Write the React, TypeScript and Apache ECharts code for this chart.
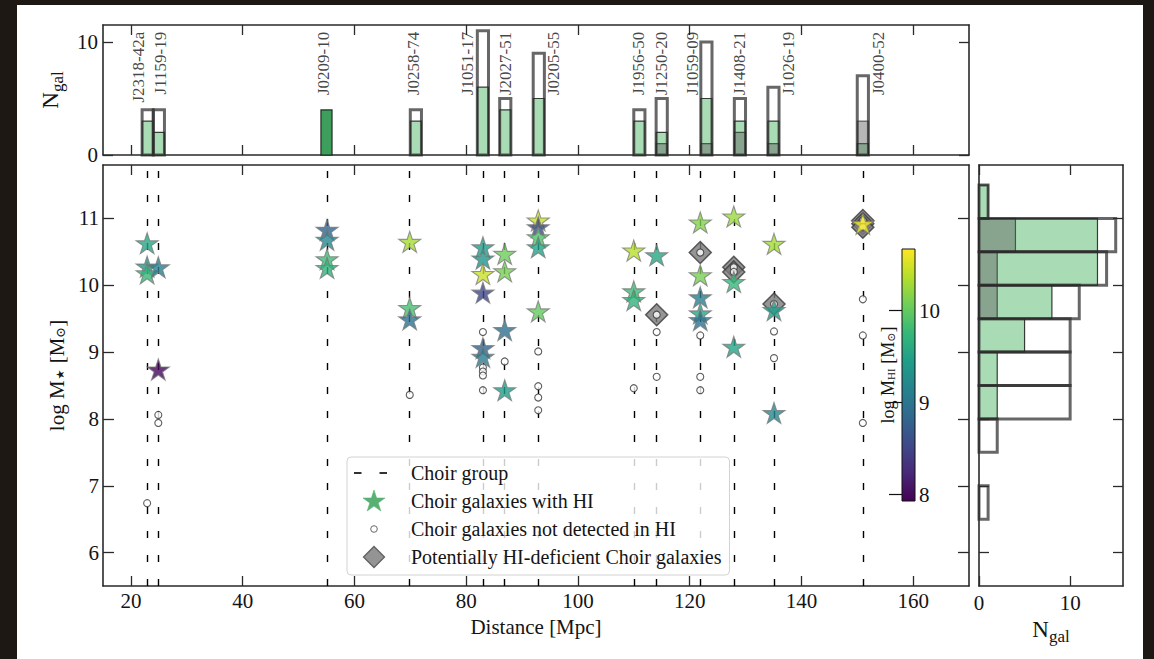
import React, { useEffect, useRef } from 'react';
import * as echarts from 'echarts';

// ---- Choir groups ----
const groupNames = [
  'J2318-42a', 'J1159-19', 'J0209-10', 'J0258-74', 'J1051-17', 'J2027-51', 'J0205-55',
  'J1956-50', 'J1250-20', 'J1059-09', 'J1408-21', 'J1026-19', 'J0400-52',
];
const groupDistance = [22.9, 24.9, 55.1, 69.9, 83.0, 86.9, 92.9, 110.0, 114.1, 121.9, 127.9, 135.1, 151.0];

// HI-detected members: log stellar mass and log HI mass, per group
const hiStellarMass = [
  [10.63, 10.28, 10.18],
  [10.27, 8.74],
  [10.83, 10.68, 10.39, 10.26],
  [10.65, 9.66, 9.49],
  [10.57, 10.40, 10.17, 9.89, 9.06, 8.93],
  [10.47, 10.21, 9.33, 8.43],
  [10.97, 10.87, 10.72, 10.57, 9.61],
  [10.52, 9.91, 9.78],
  [10.45],
  [10.94, 10.15, 9.82, 9.58, 9.48],
  [11.03, 10.05, 9.08],
  [10.62, 9.63, 8.09],
  [10.92],
];
const hiGasMass = [
  [9.55, 9.4, 9.75],
  [9.1, 7.98],
  [8.8, 9.2, 9.8, 9.7],
  [10.3, 9.85, 8.95],
  [9.45, 9.35, 10.45, 8.5, 8.8, 9.05],
  [10.05, 10.1, 8.95, 9.45],
  [10.45, 8.55, 9.9, 9.5, 10.0],
  [10.38, 9.8, 9.7],
  [9.55],
  [10.15, 10.1, 9.1, 9.55, 8.95],
  [10.25, 9.75, 9.5],
  [10.28, 9.45, 9.2],
  [10.62],
];
// Members not detected in HI: log stellar mass, per group
const undetectedStellarMass = [
  [6.74],
  [8.06, 7.94],
  [],
  [8.36],
  [9.30, 8.77, 8.71, 8.65, 8.43],
  [8.86],
  [9.01, 8.49, 8.32, 8.13],
  [8.46],
  [9.56, 9.30, 8.63],
  [10.49, 9.25, 8.63, 8.43],
  [10.27, 10.20],
  [9.72, 9.31, 8.91],
  [10.97, 10.87, 9.79, 9.25, 7.94],
];
// Potentially HI-deficient members: log stellar mass, per group
const deficientStellarMass = [
  [], [], [], [], [], [], [], [],
  [9.56],
  [10.49],
  [10.27, 10.20],
  [9.72],
  [10.97, 10.92, 10.87],
];

// ---- Distance histogram (2 Mpc bins) ----
const distBinStart = [22, 24, 54, 70, 82, 86, 92, 110, 114, 122, 128, 134, 150];
const distBinWidth = 2;
const distTotal = [4, 4, 4, 4, 11, 5, 9, 4, 5, 10, 5, 6, 7];
const distHI = [3, 2, 4, 3, 6, 4, 5, 3, 2, 5, 3, 3, 1];
const distDeficient = [0, 0, 0, 0, 0, 0, 0, 0, 1, 1, 2, 1, 3];

// ---- Stellar-mass histogram (0.5 dex bins) ----
const massBinStart = [6.5, 7.0, 7.5, 8.0, 8.5, 9.0, 9.5, 10.0, 10.5, 11.0];
const massBinWidth = 0.5;
const massTotal = [1, 0, 2, 10, 10, 10, 11, 14, 15, 1];
const massHI = [0, 0, 0, 2, 2, 5, 8, 13, 13, 1];
const massDeficient = [0, 0, 0, 0, 0, 0, 2, 2, 4, 0];

// ---- Ticks and ranges ----
const distanceTicks = [20, 40, 60, 80, 100, 120, 140, 160];
const stellarMassTicks = [6, 7, 8, 9, 10, 11];
const countTicks = [0, 10];
const gasTicks = [8, 9, 10];
const distanceRange = [15, 170];
const stellarMassRange = [5.5, 11.8];
const topCountRange = [0, 11.5];
const sideCountRange = [0, 15.8];
const gasRange = [7.93, 10.67];

// layout of the rotated group names above the distance histogram
const groupLabelX = [22.8, 26.9, 56.0, 72.1, 81.7, 88.6, 97.2, 112.3, 116.4, 122.1, 130.4, 139.3, 155.3];
const groupLabelTop = 10.9;

const VIRIDIS = ['#440154', '#482878', '#3e4989', '#31688e', '#26828e', '#1f9e89', '#35b779', '#6ece58', '#b5de2b', '#fde725'];
const F = '"Liberation Serif", "DejaVu Serif", serif';
const INK = '#141414';
const SPINE = '#2a2a2a';

function starPath(R: number, r: number) {
  let s = '';
  for (let k = 0; k < 10; k++) {
    const a = (-90 + k * 36) * Math.PI / 180;
    const rad = k % 2 ? r : R;
    s += (k ? 'L' : 'M') + (rad * Math.cos(a)).toFixed(2) + ',' + (rad * Math.sin(a)).toFixed(2);
  }
  return s + 'Z';
}

function svgIcon(body: string) {
  const svg = `<svg xmlns="http://www.w3.org/2000/svg" width="40" height="24" viewBox="0 0 40 24">${body}</svg>`;
  return 'image://data:image/svg+xml;charset=utf-8,' + encodeURIComponent(svg);
}

function starPoints(cx: number, cy: number, R: number, r: number) {
  const pts: string[] = [];
  for (let k = 0; k < 10; k++) {
    const a = (-90 + k * 36) * Math.PI / 180;
    const rad = k % 2 ? r : R;
    pts.push((cx + rad * Math.cos(a)).toFixed(2) + ',' + (cy + rad * Math.sin(a)).toFixed(2));
  }
  return pts.join(' ');
}

const spine = { show: true, onZero: false, lineStyle: { color: SPINE, width: 1.6 } };
const ticks = (values: number[], length = 10) => ({
  show: true, inside: true, length, customValues: values, lineStyle: { color: SPINE, width: 1.3 },
});
const labels = (values: number[], margin: number) => ({
  show: true, customValues: values, margin, fontFamily: F, fontSize: 21, color: INK,
});
const noLabels = { show: false };
const noSplit = { show: false };

// base text {b|..} and a subscript {s|..} lowered by `drop` px
function subRich(size: number, sub: number, drop: number) {
  return {
    b: { fontFamily: F, fontSize: size, color: INK, verticalAlign: 'top' },
    s: {
      fontFamily: F, fontSize: sub, color: INK, verticalAlign: 'top',
      padding: [Math.max(0, drop + (size - sub) / 2), 0, 0, 0],
    },
    k: {
      fontFamily: '"DejaVu Sans", sans-serif', fontSize: sub - 2, color: INK, verticalAlign: 'top',
      padding: [Math.max(0, drop + (size - sub + 2) / 2), 1, 0, 1],
    },
  };
}

function vBar(fill: (api: any) => string, stroke: string, lineWidth: number) {
  return (_p: any, api: any) => {
    const n = api.value(2);
    if (!(n > 0)) return null;
    const a = api.coord([api.value(0), n]);
    const b = api.coord([api.value(1), 0]);
    return {
      type: 'rect',
      shape: { x: a[0], y: a[1], width: b[0] - a[0], height: b[1] - a[1] },
      style: { fill: fill(api), stroke, lineWidth },
    };
  };
}

function hBar(fill: string, stroke: string, lineWidth: number) {
  return (_p: any, api: any) => {
    const n = api.value(2);
    if (!(n > 0)) return null;
    const a = api.coord([0, api.value(1)]);
    const b = api.coord([n, api.value(0)]);
    return {
      type: 'rect',
      shape: { x: a[0], y: a[1], width: b[0] - a[0], height: b[1] - a[1] },
      style: { fill, stroke, lineWidth },
    };
  };
}

const GREEN = '#a9dcb4';
const GREEN_FULL = '#3d9f5b';
const GREEN_EDGE = 'rgba(0,0,0,0.75)';
const DEF_FILL = 'rgba(95,95,95,0.45)';
const DEF_EDGE = 'rgba(0,0,0,0.55)';
const TOTAL_EDGE = 'rgba(45,45,45,0.72)';

export default function App() {
  const ref = useRef<HTMLDivElement>(null);

  useEffect(() => {
    if (!ref.current) return;
    const chart = echarts.init(ref.current, undefined, { renderer: 'svg' });

    const stars: number[][] = [];
    const circles: number[][] = [];
    const diamonds: number[][] = [];
    groupDistance.forEach((d, i) => {
      hiStellarMass[i].forEach((m, j) => stars.push([d, m, hiGasMass[i][j]]));
      undetectedStellarMass[i].forEach((m) => circles.push([d, m]));
      deficientStellarMass[i].forEach((m) => diamonds.push([d, m]));
    });

    const distHIData = distBinStart.map((s, i) => [s, s + distBinWidth, distHI[i], distTotal[i]]);
    const distDefData = distBinStart.map((s, i) => [s, s + distBinWidth, distDeficient[i]]);
    const distTotalData = distBinStart.map((s, i) => [s, s + distBinWidth, distTotal[i], distHI[i]]);
    const massHIData = massBinStart.map((s, i) => [s, s + massBinWidth, massHI[i]]);
    const massDefData = massBinStart.map((s, i) => [s, s + massBinWidth, massDeficient[i]]);
    const massTotalData = massBinStart.map((s, i) => [s, s + massBinWidth, massTotal[i]]);

    const legendIcons = {
      dash: svgIcon('<rect x="0" y="11.2" width="7.5" height="1.6" fill="#000"/><rect x="25.5" y="11.2" width="7.5" height="1.6" fill="#000"/>'),
      star: svgIcon(`<polygon points="${starPoints(20, 12.6, 11.5, 4.4)}" fill="#2f9e4f" stroke="#2f9e4f" stroke-width="0.6"/>`),
      circle: svgIcon('<circle cx="20" cy="12" r="3.3" fill="#fff" stroke="#444" stroke-width="1"/>'),
      diamond: svgIcon('<polygon points="20,1.5 30.5,12 20,22.5 9.5,12" fill="#7a7a7a" stroke="#3a3a3a" stroke-width="1.3"/>'),
    };

    const grid = (left: number, top: number, width: number, height: number) => ({
      left, top, width, height, containLabel: false, outerBoundsMode: 'none',
    });

    chart.setOption({
      animation: false,
      backgroundColor: 'transparent',
      textStyle: { fontFamily: F },
      grid: [
        grid(103, 165, 866, 421),  // main scatter
        grid(103, 25, 866, 130),   // distance histogram
        grid(979, 165, 144, 421),  // stellar-mass histogram
        grid(902, 249, 13, 252),   // colour bar
      ],
      xAxis: [
        {
          type: 'value', gridIndex: 0, position: 'bottom', min: distanceRange[0], max: distanceRange[1],
          axisLine: spine, axisTick: ticks(distanceTicks), axisLabel: labels(distanceTicks, 4), splitLine: noSplit,
          name: 'Distance [Mpc]', nameLocation: 'middle', nameGap: 30,
          nameTextStyle: { fontFamily: F, fontSize: 21, color: INK },
        },
        {
          type: 'value', gridIndex: 0, position: 'top', min: distanceRange[0], max: distanceRange[1],
          axisLine: spine, axisTick: ticks(distanceTicks), axisLabel: noLabels, splitLine: noSplit,
        },
        {
          type: 'value', gridIndex: 1, position: 'bottom', min: distanceRange[0], max: distanceRange[1],
          axisLine: spine, axisTick: ticks(distanceTicks), axisLabel: noLabels, splitLine: noSplit,
        },
        {
          type: 'value', gridIndex: 1, position: 'top', min: distanceRange[0], max: distanceRange[1],
          axisLine: spine, axisTick: ticks(distanceTicks), axisLabel: noLabels, splitLine: noSplit,
        },
        {
          type: 'value', gridIndex: 2, position: 'bottom', min: sideCountRange[0], max: sideCountRange[1],
          axisLine: spine, axisTick: ticks(countTicks), axisLabel: labels(countTicks, 6), splitLine: noSplit,
          name: '{b|N}{s|gal}', nameLocation: 'middle', nameGap: 26,
          nameTextStyle: { rich: subRich(23, 17, 7) },
        },
        {
          type: 'value', gridIndex: 2, position: 'top', min: sideCountRange[0], max: sideCountRange[1],
          axisLine: spine, axisTick: ticks(countTicks), axisLabel: noLabels, splitLine: noSplit,
        },
        {
          type: 'value', gridIndex: 3, min: 0, max: 1, show: false,
        },
      ],
      yAxis: [
        {
          type: 'value', gridIndex: 0, position: 'left', min: stellarMassRange[0], max: stellarMassRange[1],
          axisLine: spine, axisTick: ticks(stellarMassTicks, 11), axisLabel: labels(stellarMassTicks, 4), splitLine: noSplit,
          name: '{b|log M}{k|★}{b| [M}{s|⊙}{b|]}', nameLocation: 'middle', nameRotate: 90, nameGap: 31,
          nameTextStyle: { rich: subRich(21, 13, 4) },
        },
        {
          type: 'value', gridIndex: 0, position: 'right', min: stellarMassRange[0], max: stellarMassRange[1],
          axisLine: spine, axisTick: ticks(stellarMassTicks, 11), axisLabel: noLabels, splitLine: noSplit,
        },
        {
          type: 'value', gridIndex: 1, position: 'left', min: topCountRange[0], max: topCountRange[1],
          axisLine: spine, axisTick: ticks(countTicks), axisLabel: labels(countTicks, 5), splitLine: noSplit,
          name: '{b|N}{s|gal}', nameLocation: 'middle', nameRotate: 90, nameGap: 33,
          nameTextStyle: { rich: subRich(23, 17, 7) },
        },
        {
          type: 'value', gridIndex: 1, position: 'right', min: topCountRange[0], max: topCountRange[1],
          axisLine: spine, axisTick: ticks(countTicks), axisLabel: noLabels, splitLine: noSplit,
        },
        {
          type: 'value', gridIndex: 2, position: 'left', min: stellarMassRange[0], max: stellarMassRange[1],
          axisLine: spine, axisTick: ticks(stellarMassTicks), axisLabel: noLabels, splitLine: noSplit,
        },
        {
          type: 'value', gridIndex: 2, position: 'right', min: stellarMassRange[0], max: stellarMassRange[1],
          axisLine: spine, axisTick: ticks(stellarMassTicks), axisLabel: noLabels, splitLine: noSplit,
        },
        {
          type: 'value', gridIndex: 3, position: 'right', min: gasRange[0], max: gasRange[1], z: 5,
          axisLine: { show: false },
          axisTick: { show: true, inside: true, length: 13, customValues: gasTicks, lineStyle: { color: '#111', width: 1.2 } },
          axisLabel: labels(gasTicks, 4), splitLine: noSplit,
        },
        {
          type: 'value', gridIndex: 3, position: 'left', min: gasRange[0], max: gasRange[1],
          axisLine: { show: false }, axisTick: { show: false }, axisLabel: noLabels, splitLine: noSplit,
          name: '{b|log M}{s|HI}{b| [M}{s|⊙}{b|]}', nameLocation: 'middle', nameRotate: 90, nameGap: 5,
          nameTextStyle: { rich: subRich(18, 11, 3) },
        },
      ],
      visualMap: {
        show: false, type: 'continuous', seriesIndex: 3, dimension: 2,
        min: gasRange[0], max: gasRange[1], inRange: { color: VIRIDIS },
      },
      legend: {
        left: 347, top: 457, orient: 'vertical', z: 20,
        padding: [4, 8, 6, 7],
        itemWidth: 40, itemHeight: 24, itemGap: 4,
        backgroundColor: 'rgba(255,255,255,0.8)', borderColor: '#d2d2d2', borderWidth: 1, borderRadius: 4,
        selectedMode: false,
        formatter: (name: string) => `{t|${name}}`,
        textStyle: {
          fontFamily: F, fontSize: 20, color: INK,
          rich: { t: { fontFamily: F, fontSize: 20, color: INK, lineHeight: 24, padding: [0, 0, 0, 12] } },
        },
        data: [
          { name: 'Choir group', icon: legendIcons.dash },
          { name: 'Choir galaxies with HI', icon: legendIcons.star },
          { name: 'Choir galaxies not detected in HI', icon: legendIcons.circle },
          { name: 'Potentially HI-deficient Choir galaxies', icon: legendIcons.diamond },
        ],
      },
      series: [
        {
          name: 'Choir group', type: 'line', xAxisIndex: 0, yAxisIndex: 0, z: 1,
          data: [[groupDistance[0], stellarMassRange[0]]], showSymbol: false, symbolSize: 0,
          lineStyle: { width: 0, color: '#000' }, itemStyle: { color: '#000' }, silent: true,
          markLine: {
            silent: true, symbol: ['none', 'none'], label: { show: false }, z: 1,
            lineStyle: { color: '#000', type: [7, 17], width: 1.4 },
            emphasis: { disabled: true },
            data: groupDistance.map((d) => ({ xAxis: d })),
          },
        },
        {
          name: 'Potentially HI-deficient Choir galaxies', type: 'scatter', xAxisIndex: 0, yAxisIndex: 0,
          data: diamonds, symbol: 'diamond', symbolSize: 22, z: 3,
          itemStyle: { color: '#7a7a7a', borderColor: '#3a3a3a', borderWidth: 1.5 },
        },
        {
          name: 'Choir galaxies not detected in HI', type: 'scatter', xAxisIndex: 0, yAxisIndex: 0,
          data: circles, symbol: 'circle', symbolSize: 7, z: 4,
          itemStyle: { color: '#ffffff', borderColor: '#333', borderWidth: 1.1 },
        },
        {
          name: 'Choir galaxies with HI', type: 'scatter', xAxisIndex: 0, yAxisIndex: 0,
          data: stars, symbol: 'path://' + starPath(100, 38.2), symbolSize: 22, symbolKeepAspect: true, z: 5,
          itemStyle: { borderColor: 'rgba(120,120,120,0.95)', borderWidth: 1.1 },
        },
        // distance histogram
        {
          name: 'hist-dist-hi', type: 'custom', xAxisIndex: 2, yAxisIndex: 2, data: distHIData,
          encode: { x: [0, 1], y: 2 }, silent: true, z: 2,
          renderItem: vBar((api) => (api.value(2) === api.value(3) ? GREEN_FULL : GREEN), GREEN_EDGE, 1.2),
        },
        {
          name: 'hist-dist-def', type: 'custom', xAxisIndex: 2, yAxisIndex: 2, data: distDefData,
          encode: { x: [0, 1], y: 2 }, silent: true, z: 3,
          renderItem: vBar(() => DEF_FILL, DEF_EDGE, 1.2),
        },
        {
          name: 'hist-dist-total', type: 'custom', xAxisIndex: 2, yAxisIndex: 2, data: distTotalData,
          encode: { x: [0, 1], y: 2 }, silent: true, z: 4,
          // a fully detected bin is already outlined by its filled bar
          renderItem: (p: any, api: any) =>
            api.value(2) === api.value(3) ? null : vBar(() => 'none', TOTAL_EDGE, 3)(p, api),
        },
        {
          name: 'group-names', type: 'scatter', xAxisIndex: 2, yAxisIndex: 2, silent: true, z: 6,
          symbolSize: 1, itemStyle: { color: 'rgba(0,0,0,0)' },
          data: groupNames.map((n, i) => ({ name: n, value: [groupLabelX[i], groupLabelTop] })),
          label: {
            show: true, position: 'inside', formatter: '{b}', rotate: 90,
            align: 'right', verticalAlign: 'bottom',
            fontFamily: F, fontSize: 17, color: INK,
          },
        },
        // stellar-mass histogram
        {
          name: 'hist-mass-hi', type: 'custom', xAxisIndex: 4, yAxisIndex: 4, data: massHIData,
          encode: { x: 2, y: [0, 1] }, silent: true, z: 2,
          renderItem: hBar(GREEN, GREEN_EDGE, 1.2),
        },
        {
          name: 'hist-mass-def', type: 'custom', xAxisIndex: 4, yAxisIndex: 4, data: massDefData,
          encode: { x: 2, y: [0, 1] }, silent: true, z: 3,
          renderItem: hBar(DEF_FILL, DEF_EDGE, 1.2),
        },
        {
          name: 'hist-mass-total', type: 'custom', xAxisIndex: 4, yAxisIndex: 4, data: massTotalData,
          encode: { x: 2, y: [0, 1] }, silent: true, z: 4,
          renderItem: hBar('none', TOTAL_EDGE, 3),
        },
        // colour bar for log M_HI
        {
          name: 'colorbar', type: 'custom', xAxisIndex: 6, yAxisIndex: 6, silent: true, z: 1,
          data: [[0, gasRange[0], gasRange[1]]],
          encode: { x: 0, y: [1, 2] },
          renderItem: (_p: any, api: any) => {
            const a = api.coord([0, api.value(2)]);
            const b = api.coord([1, api.value(1)]);
            return {
              type: 'rect',
              shape: { x: a[0], y: a[1], width: b[0] - a[0], height: b[1] - a[1] },
              style: {
                fill: new echarts.graphic.LinearGradient(0, 1, 0, 0,
                  VIRIDIS.map((c, i) => ({ offset: i / (VIRIDIS.length - 1), color: c }))),
                stroke: '#111', lineWidth: 1,
              },
            };
          },
        },
      ],
    });

    return () => chart.dispose();
  }, []);

  return (
    <div style={{ position: 'fixed', left: 0, top: 0, width: 1154, height: 659, background: '#1d1813', overflow: 'hidden' }}>
      <div style={{ position: 'absolute', left: 17, top: 5, width: 1126, height: 654, background: '#ffffff' }} />
      <div ref={ref} style={{ position: 'absolute', left: 0, top: 0, width: 1154, height: 659 }} />
    </div>
  );
}
